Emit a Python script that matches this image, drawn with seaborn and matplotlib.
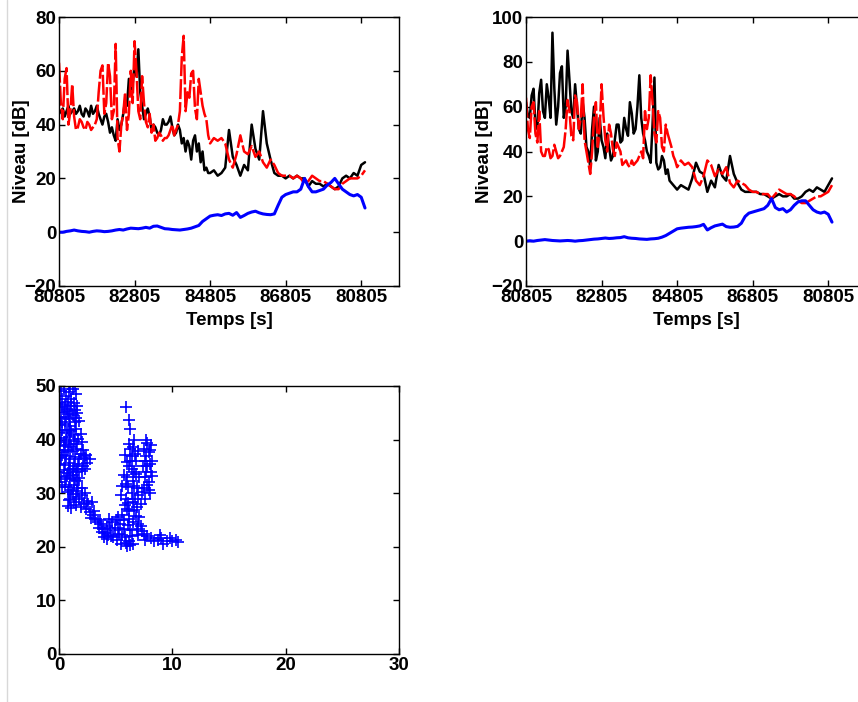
import matplotlib.pyplot as plt
from matplotlib.lines import Line2D
import seaborn as sns

# time grid of the recordings (s), one sample every 100 s
temps = list(range(0, 8200, 100))
# extra samples between them over the noisy first part
demi_temps = list(range(50, 4000, 100))
tick_pos = [0, 2000, 4000, 6000, 8000]
tick_lab = ["80805", "82805", "84805", "86805", "80805"]

# left recording
gauche_noir = [44, 46, 45, 44, 46, 45, 44, 46, 43, 44, 47,
               42, 43, 41, 39, 34, 38, 44, 47, 52, 62,
               68, 47, 44, 43, 40, 37, 38, 40, 41, 39,
               37, 38, 35, 34, 27, 36, 33, 30, 24, 22,
               23, 21, 22, 24, 38, 28, 25, 21, 25, 23,
               40, 31, 27, 45, 33, 27, 22, 21, 21, 20,
               21, 20, 21, 20, 20, 17, 19, 18, 18, 17,
               18, 17, 16, 17, 20, 21, 20, 22, 21, 25,
               26]
gauche_noir_demi = [45, 43, 47, 45, 44, 47, 43, 45, 47, 45,
                    44, 40, 44, 37, 36, 42, 40, 49, 57, 55,
                    58, 52, 42, 46, 38, 39, 36, 42, 40, 43,
                    36, 40, 33, 30, 32, 34, 30, 26, 23, 22]
gauche_rouge = [63, 42, 61, 45, 43, 39, 41, 38, 40, 39, 42,
                60, 44, 63, 42, 70, 30, 44, 38, 60, 71,
                45, 58, 41, 44, 40, 35, 36, 35, 36, 40,
                38, 45, 73, 52, 59, 46, 57, 47, 42, 33,
                35, 34, 35, 33, 27, 24, 29, 36, 30, 29,
                32, 28, 30, 26, 24, 27, 25, 22, 21, 21,
                21, 20, 21, 20, 18, 19, 21, 20, 19, 19,
                18, 17, 16, 16, 18, 19, 20, 20, 20, 21,
                23]
gauche_rouge_demi = [48, 57, 40, 55, 38, 42, 39, 41, 38, 40,
                     52, 62, 48, 58, 45, 35, 40, 52, 44, 48,
                     60, 42, 48, 39, 37, 34, 37, 34, 35, 38,
                     36, 40, 65, 45, 50, 60, 42, 52, 44, 36]
gauche_bleu = [0, 0, 0.3, 0.5, 0.8, 0.5, 0.3, 0.2, 0, 0.3, 0.5,
               0.4, 0.2, 0.3, 0.5, 0.8, 1, 0.8, 1.2, 1.5, 1.4,
               1.3, 1.5, 1.8, 1.5, 2.2, 2.3, 1.8, 1.3, 1.2, 1,
               0.9, 0.8, 1, 1.2, 1.5, 2, 2.5, 4, 5, 6,
               6.3, 6.5, 6.2, 6.8, 7, 6.3, 7.3, 5.5, 6.2, 7,
               7.5, 7.8, 7.2, 6.8, 6.6, 6.5, 6.8, 10, 13, 14,
               14.5, 15, 15, 16, 20, 17, 15, 15, 15.5, 16,
               17.5, 18.5, 20, 18, 16, 15, 14, 13.5, 14, 13,
               9]

# right recording
droite_noir = [62, 55, 68, 50, 72, 55, 64, 93, 52, 75, 55,
               85, 58, 70, 50, 62, 42, 33, 60, 40, 45,
               37, 42, 38, 52, 44, 55, 47, 57, 50, 74,
               48, 40, 35, 73, 32, 38, 30, 27, 25, 23,
               25, 24, 23, 28, 35, 31, 30, 22, 27, 24,
               34, 29, 27, 38, 30, 26, 23, 22, 22, 22,
               22, 21, 21, 20, 19, 20, 21, 20, 20, 21,
               19, 19, 20, 22, 23, 22, 24, 23, 22, 25,
               28]
droite_noir_demi = [56, 65, 52, 66, 58, 70, 55, 68, 60, 78,
                    60, 72, 55, 60, 48, 55, 40, 50, 36, 55,
                    42, 48, 36, 45, 52, 45, 50, 62, 48, 60,
                    55, 45, 38, 52, 35, 33, 36, 32, 26, 24]
droite_rouge = [64, 46, 62, 44, 40, 38, 41, 38, 40, 38, 42,
                63, 47, 65, 50, 70, 40, 30, 55, 42, 70,
                45, 52, 41, 44, 40, 35, 34, 36, 35, 38,
                37, 50, 74, 48, 58, 42, 52, 45, 38, 33,
                36, 34, 35, 33, 27, 25, 29, 36, 34, 29,
                32, 30, 33, 26, 24, 27, 26, 25, 23, 22,
                22, 21, 21, 21, 19, 21, 23, 22, 21, 21,
                20, 18, 17, 17, 18, 19, 20, 20, 21, 22,
                25]
droite_rouge_demi = [50, 60, 48, 58, 38, 42, 37, 43, 37, 40,
                     50, 58, 45, 62, 55, 45, 35, 40, 62, 50,
                     56, 40, 48, 38, 42, 34, 36, 33, 34, 36,
                     40, 58, 55, 62, 44, 55, 40, 48, 42, 36]
droite_bleu = [0, 0.2, 0, 0.3, 0.5, 0.7, 0.5, 0.3, 0.2, 0.1, 0.2,
               0.3, 0.2, 0, 0.2, 0.3, 0.5, 0.7, 0.9, 1, 1.2,
               1.4, 1.2, 1.3, 1.5, 1.6, 2, 1.5, 1.3, 1.2, 1,
               0.9, 0.8, 1, 1.1, 1.3, 1.8, 2.5, 3.5, 4.5, 5.5,
               5.8, 6, 6.2, 6.3, 6.5, 6.8, 7.5, 5, 6, 6.8,
               7.2, 7.6, 6.5, 6.2, 6.3, 6.6, 8, 11, 12.5, 13,
               13.5, 14, 14.5, 16, 19, 15, 14, 14.5, 13, 14,
               16, 17.5, 18, 18, 16, 14, 13, 12.5, 13, 12,
               8.5]

# scatter (x, y) points
nuage = [
    (0.3, 47.5), (0.6, 48.2), (0.9, 48.8), (1.2, 49.4), (1.4, 50.0), (1.5, 48.6),
    (1.1, 47.6), (0.1, 46.8), (0.5, 46.5), (0.8, 47.0), (1.3, 46.9),
    (0.15, 49.0), (0.45, 49.5), (1.0, 50.0), (0.25, 46.0), (1.1, 46.2),
    (0.0, 45.5), (0.4, 45.2), (0.7, 45.8), (1.0, 45.4), (1.4, 45.6), (1.6, 46.3),
    (0.2, 44.0), (0.6, 44.3), (0.9, 43.8), (1.2, 44.5), (1.5, 44.1), (0.1, 42.8),
    (0.5, 43.0), (1.0, 42.6), (1.4, 43.2), (1.8, 43.5),
    (0.75, 44.8), (0.3, 43.2), (1.6, 44.9), (0.85, 41.8), (1.3, 40.9),
    (0.0, 41.5), (0.3, 41.8), (0.7, 41.2), (1.1, 41.6), (1.5, 41.9), (1.9, 41.0),
    (0.2, 40.3), (0.6, 40.0), (1.0, 40.4), (1.3, 39.8), (1.7, 40.2), (2.0, 39.6),
    (0.1, 39.0), (0.5, 38.8), (0.9, 39.2), (0.4, 39.5), (1.5, 39.2),
    (0.0, 38.0), (0.4, 37.6), (0.8, 38.1), (1.2, 37.9), (1.6, 38.3), (2.1, 38.0),
    (2.4, 37.2), (0.2, 36.6), (0.6, 36.9), (1.0, 36.4), (1.4, 36.8), (1.8, 36.3),
    (2.3, 36.6), (2.7, 36.3), (2.5, 35.6), (0.1, 35.4), (0.5, 35.2), (0.9, 35.6),
    (1.3, 35.1), (1.7, 35.5), (2.1, 35.0), (1.9, 37.3), (2.2, 36.9), (1.1, 38.7),
    (0.3, 37.2),
    (0.0, 34.0), (0.4, 34.3), (0.8, 33.8), (1.2, 34.2), (1.6, 33.9), (2.0, 34.1),
    (0.2, 33.0), (0.6, 32.6), (1.0, 32.9), (1.4, 32.4), (1.8, 32.8), (0.0, 32.0),
    (0.5, 31.6), (0.9, 31.2), (1.3, 31.5), (1.7, 31.0), (1.0, 34.6), (1.5, 34.5),
    (2.3, 34.6), (0.7, 33.2), (1.2, 33.4), (1.6, 32.2), (0.3, 31.2),
    (0.8, 30.2), (1.2, 29.8), (1.6, 30.4), (2.0, 29.6), (2.3, 30.0), (0.9, 28.8),
    (1.3, 28.4), (1.8, 28.9), (0.8, 27.6), (1.1, 27.2), (1.5, 27.8), (2.2, 28.2),
    (2.6, 27.9), (2.9, 28.3), (2.4, 27.0), (1.1, 30.6), (1.5, 29.2), (2.0, 31.0),
    (1.0, 29.0), (2.5, 28.6), (1.9, 27.4),
    (2.7, 26.4), (3.0, 26.0), (2.8, 25.4), (3.2, 25.2), (3.4, 24.6), (3.7, 24.2),
    (3.5, 23.6), (3.9, 23.4), (4.1, 22.6), (4.0, 21.8), (4.3, 22.2), (4.2, 23.8),
    (4.4, 25.2), (4.7, 24.6), (4.6, 22.0), (4.9, 23.2), (5.0, 25.0), (5.2, 25.6),
    (5.4, 24.2), (5.3, 22.4), (5.1, 21.2), (5.5, 20.6), (5.8, 21.8), (6.0, 20.2),
    (6.2, 21.0), (6.4, 22.0), (5.7, 23.4), (6.1, 24.0), (5.9, 20.8), (6.5, 20.6),
    (3.1, 26.6), (3.6, 25.0), (3.8, 22.8), (4.5, 23.6), (4.8, 21.8), (5.6, 22.2),
    (6.3, 20.4), (5.2, 23.6), (4.2, 21.4),
    (5.6, 26.0), (5.8, 27.8), (5.5, 29.6), (5.6, 31.4), (5.9, 29.0), (6.0, 27.0),
    (6.2, 25.2), (6.3, 23.2), (6.5, 24.6), (6.6, 26.8), (6.8, 25.8), (7.0, 24.2),
    (6.0, 33.0), (6.2, 35.0), (6.4, 37.0), (6.5, 38.6), (6.3, 36.0), (6.1, 31.2),
    (6.4, 30.0), (6.7, 29.0), (6.9, 31.0), (7.1, 33.0), (6.6, 34.0), (6.8, 36.0),
    (7.0, 37.8), (6.2, 39.2), (6.6, 40.0), (6.3, 42.0), (6.2, 43.6), (5.9, 46.0),
    (5.8, 37.2), (7.2, 28.0), (7.3, 30.2), (6.5, 32.2), (5.7, 33.4), (6.9, 27.4),
    (7.1, 25.6), (5.9, 31.8), (6.1, 28.2), (6.6, 31.4), (6.8, 33.6), (6.4, 34.6),
    (6.0, 35.8), (6.7, 37.4), (6.3, 38.2), (5.7, 25.0), (6.9, 23.4), (6.5, 28.4),
    (7.0, 29.6), (6.2, 26.6),
    (7.5, 31.0), (7.6, 33.0), (7.8, 35.0), (7.7, 37.0), (7.5, 38.2), (7.8, 39.4),
    (7.7, 40.0), (8.0, 38.0), (8.2, 36.0), (8.1, 34.0), (7.9, 32.0), (8.0, 30.0),
    (8.2, 33.2), (7.4, 35.0), (7.9, 37.6), (7.6, 29.0), (7.6, 36.0), (8.0, 35.4),
    (7.8, 31.6), (8.1, 39.0), (7.7, 34.0), (7.9, 30.6),
    (7.0, 22.2), (7.3, 23.0), (7.5, 22.4), (7.8, 22.0), (8.1, 21.6), (8.4, 21.0),
    (8.7, 21.2), (9.0, 21.6), (9.2, 20.6), (9.5, 21.0), (9.8, 21.6), (10.0, 21.0),
    (10.3, 21.2), (10.5, 20.9), (8.9, 22.2), (7.2, 23.8), (7.6, 21.2),
]
nuage_x = [p[0] for p in nuage]
nuage_y = [p[1] for p in nuage]

sns.set_style("white")
plt.rcParams["font.family"] = ["Liberation Sans", "DejaVu Sans"]
plt.rcParams["font.weight"] = "bold"
plt.rcParams["axes.labelweight"] = "bold"
plt.rcParams["axes.labelcolor"] = "black"
plt.rcParams["text.color"] = "black"

W, H = 858, 702
FS = 13.5
fig = plt.figure(figsize=(W / 100, H / 100), dpi=100)


def boite(ax):
    for s in ax.spines.values():
        s.set_visible(True)
        s.set_color("black")
        s.set_linewidth(1)
    ax.tick_params(direction="in", length=4, width=1, top=True, right=True,
                   bottom=True, left=True, labelsize=FS, colors="black", pad=2)


def niveaux(ax, noir, noir_demi, rouge, rouge_demi, bleu, ymax, ylab_x):
    # lineplot sorts by x, so the half-step samples slot in between
    sns.lineplot(x=temps + demi_temps, y=noir + noir_demi, color="black",
                 lw=1.8, ax=ax)
    sns.lineplot(x=temps + demi_temps, y=rouge + rouge_demi, color="red",
                 lw=1.8, linestyle=(0, (8, 1.2)), ax=ax)
    sns.lineplot(x=temps, y=bleu, color="blue", lw=2.2, ax=ax)
    ax.set_xlim(0, 9000)
    ax.set_ylim(-20, ymax)
    ax.set_xticks(tick_pos)
    ax.set_xticklabels(tick_lab)
    ax.set_yticks(range(-20, ymax + 1, 20))
    ax.set_xlabel("Temps [s]", fontsize=FS)
    ax.set_ylabel("Niveau [dB]", fontsize=FS)
    ax.xaxis.set_label_coords(0.5, -0.095)
    ax.yaxis.set_label_coords(ylab_x, 0.5)
    boite(ax)


ax1 = fig.add_axes([59 / W, (H - 286) / H, 340 / W, 269 / H])
niveaux(ax1, gauche_noir, gauche_noir_demi, gauche_rouge, gauche_rouge_demi,
        gauche_bleu, 80, -0.085)

ax2 = fig.add_axes([526 / W, (H - 286) / H, 340 / W, 269 / H])
niveaux(ax2, droite_noir, droite_noir_demi, droite_rouge, droite_rouge_demi,
        droite_bleu, 100, -0.097)

ax3 = fig.add_axes([59 / W, (H - 654) / H, 340 / W, 268 / H])
sns.scatterplot(x=nuage_x, y=nuage_y, marker="+", color="blue", s=65,
                linewidth=1.2, legend=False, ax=ax3)
ax3.set_xlim(0, 30)
ax3.set_ylim(0, 50)
ax3.set_xticks([0, 10, 20, 30])
ax3.set_yticks([0, 10, 20, 30, 40, 50])
boite(ax3)

# thin grey frame edge on the left of the page
fig.add_artist(Line2D([6.5 / W, 6.5 / W], [0, 1], color="#d8d8d8", lw=1))

fig.savefig("out.png", dpi=100)
